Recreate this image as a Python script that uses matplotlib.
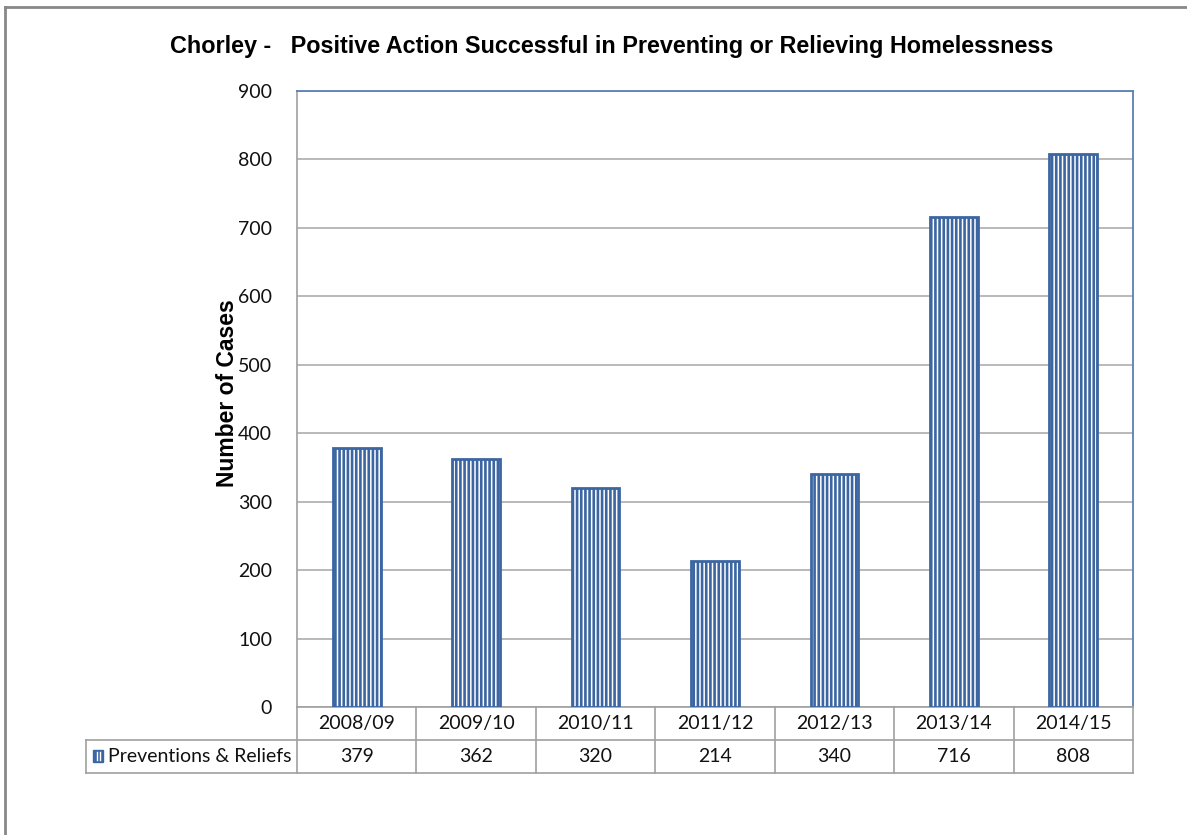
import matplotlib
matplotlib.use("Agg")
import matplotlib.pyplot as plt
import matplotlib.transforms as mtransforms
from matplotlib.patches import Rectangle
from matplotlib.lines import Line2D

categories = ["2008/09", "2009/10", "2010/11", "2011/12", "2012/13", "2013/14", "2014/15"]
values = [379, 362, 320, 214, 340, 716, 808]
series_name = "Preventions & Reliefs"
title = "Chorley -   Positive Action Successful in Preventing or Relieving Homelessness"
ylabel = "Number of Cases"
yticks = [0, 100, 200, 300, 400, 500, 600, 700, 800, 900]

BLUE = "#3C66A2"
GRID = "#ADADAD"
TABLE = "#A0A0A0"
TXT = "#111111"
plt.rcParams['hatch.linewidth'] = 1.9
plt.rcParams['hatch.color'] = BLUE

fig = plt.figure(figsize=(11.87, 8.35), dpi=100)
W, H = 1187, 835
ax = fig.add_axes([297 / W, 1 - 707 / H, (1133 - 297) / W, (707 - 91) / H])

x = list(range(len(categories)))
ax.bar(x, values, width=0.40, color="white", edgecolor=BLUE, hatch="||||", linewidth=2.0, zorder=3)
ax.set_xlim(-0.5, len(categories) - 0.5)
ax.set_ylim(0, 900)
ax.set_yticks(yticks)
ax.set_yticklabels([str(t) for t in yticks], fontfamily="Lato", fontsize=14, color=TXT)
ax.tick_params(axis="y", length=0, pad=18)
ax.set_xticks([])
ax.yaxis.grid(True, color=GRID, linewidth=1.2, zorder=0)
ax.set_axisbelow(True)
for s in ["left", "bottom"]:
    ax.spines[s].set_color(TABLE)
    ax.spines[s].set_linewidth(1.2)
for s in ["top", "right"]:
    ax.spines[s].set_color("#5B7FB5")
    ax.spines[s].set_linewidth(1.3)

ax.set_ylabel(ylabel, fontfamily="Liberation Sans", fontweight="bold", fontsize=16.5,
              va="center")
ax.yaxis.set_label_coords((228 - 297) / 836, (707 - 393.5) / 616)

fig.text(612 / W, 1 - 47 / H, title, ha="center", va="center",
         fontfamily="Liberation Sans", fontweight="bold", fontsize=16.8)

# Data table under the axis
trans = mtransforms.blended_transform_factory(ax.transData, fig.transFigure)
ftr = fig.transFigure
y_top = 1 - 707 / H
y_mid = 1 - 740 / H
y_bot = 1 - 773 / H
x_left_fig = 86 / W
x_ax_right = 1133 / W

lkw = dict(color=TABLE, linewidth=1.2)
fig.add_artist(Line2D([x_left_fig, x_ax_right], [y_mid, y_mid], transform=ftr, **lkw))
fig.add_artist(Line2D([x_left_fig, x_ax_right], [y_bot, y_bot], transform=ftr, **lkw))
fig.add_artist(Line2D([x_left_fig, x_left_fig], [y_mid, y_bot], transform=ftr, **lkw))
for i in range(len(categories) + 1):
    b = i - 0.5
    fig.add_artist(Line2D([b, b], [y_top, y_bot], transform=trans, **lkw))

for i, (c, v) in enumerate(zip(categories, values)):
    fig.text(i, (y_top + y_mid) / 2, c, transform=trans, ha="center", va="center",
             fontfamily="Lato", fontsize=14, color=TXT)
    fig.text(i, (y_mid + y_bot) / 2, str(v), transform=trans, ha="center", va="center",
             fontfamily="Lato", fontsize=14, color=TXT)

# legend key
fig.add_artist(Rectangle((93 / W, 1 - 762 / H), 10 / W, 12 / H, transform=ftr,
                         facecolor=BLUE, edgecolor=BLUE, linewidth=1.0))
fig.add_artist(Line2D([96.5 / W, 96.5 / W], [1 - 760 / H, 1 - 752 / H], transform=ftr, color="white", linewidth=1.0))
fig.add_artist(Line2D([99.5 / W, 99.5 / W], [1 - 760 / H, 1 - 752 / H], transform=ftr, color="white", linewidth=1.0))
fig.text(108 / W, (y_mid + y_bot) / 2, series_name, ha="left", va="center",
         fontfamily="Lato", fontsize=14, color=TXT)

# outer frame (left and top edges visible)
fig.add_artist(Line2D([5 / W, 5 / W], [0, 1 - 7 / H], transform=ftr, color="#888888", linewidth=2))
fig.add_artist(Line2D([5 / W, 1], [1 - 7 / H, 1 - 7 / H], transform=ftr, color="#888888", linewidth=2))

fig.savefig("out.png", dpi=100)
